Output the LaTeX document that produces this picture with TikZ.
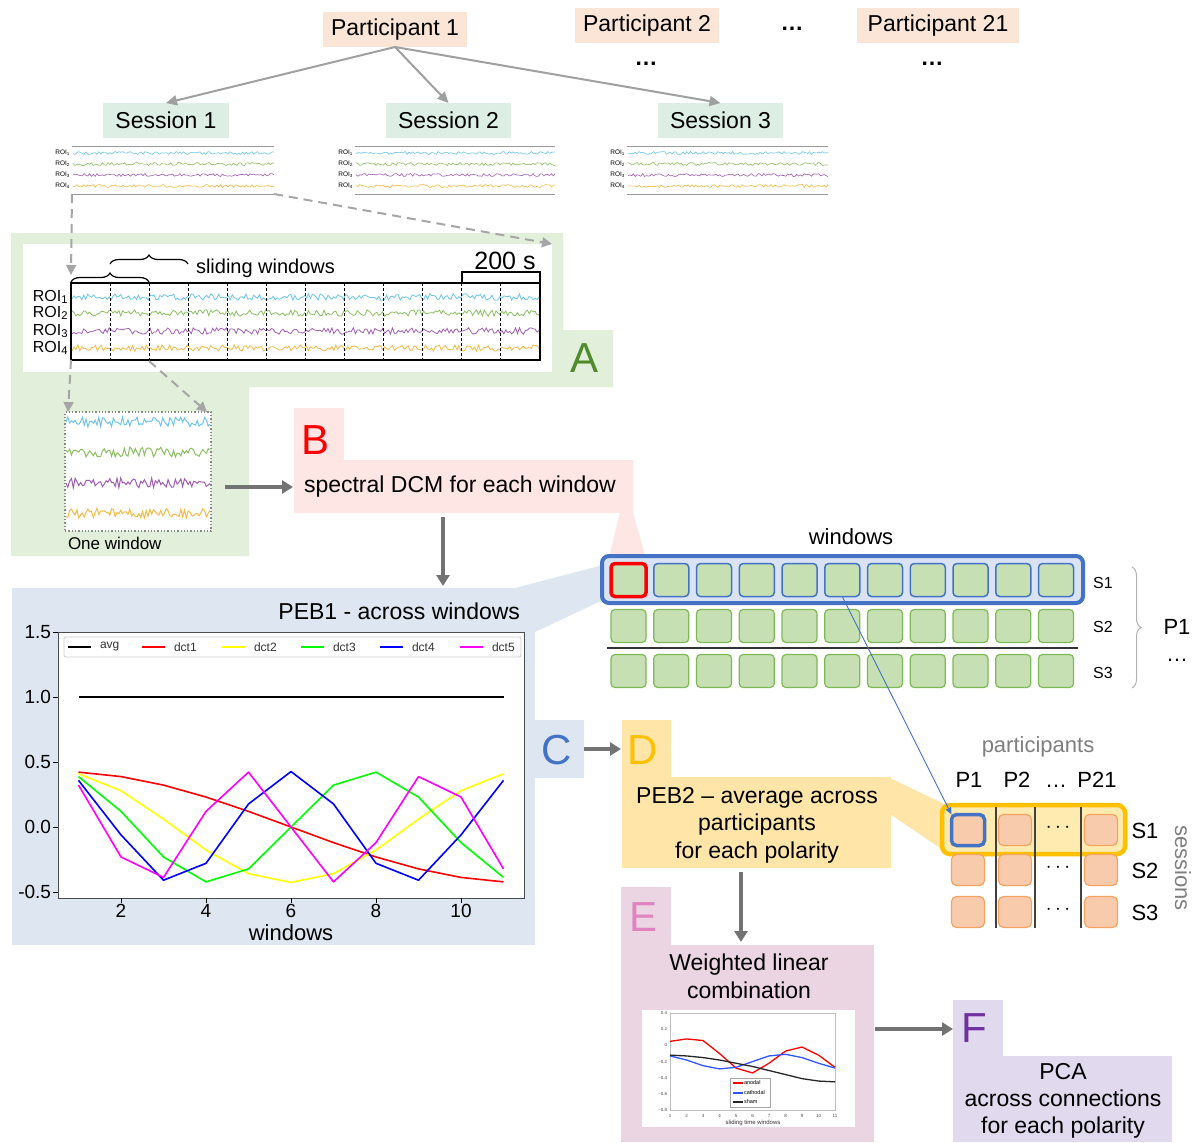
\documentclass[tikz,border=0pt]{standalone}
\usepackage{fontspec}
\setmainfont{Liberation Sans}
\usetikzlibrary{arrows.meta,decorations.pathreplacing,calc}
\newcommand{\fsz}[2]{\fontsize{#1}{#2}\selectfont}
\newcommand{\noisesig}[6]{\draw[#1] plot[domain=#2:#3, samples=#6, variable=\t] (\t, {#4 + #5*rand});}
\definecolor{peach}{HTML}{FBE5D6}
\definecolor{mint}{HTML}{DDEFE5}
\definecolor{greenbg}{HTML}{E2EFDA}
\definecolor{pinkbg}{HTML}{FDE6E3}
\definecolor{bluebg}{HTML}{DEE6F1}
\definecolor{yellowbg}{HTML}{FFE6A8}
\definecolor{mauvebg}{HTML}{EBD5E2}
\definecolor{lavbg}{HTML}{E1D9EE}
\definecolor{arrowgray}{HTML}{A0A0A0}
\definecolor{flowgray}{HTML}{737373}
\definecolor{dashgray}{HTML}{A6A6A6}
\definecolor{rulegray}{HTML}{9A9A9A}
\definecolor{sqgreen}{HTML}{C6E0B4}
\definecolor{sqgreenb}{HTML}{7DBA55}
\definecolor{sqpeach}{HTML}{F8CBAD}
\definecolor{sqpeachb}{HTML}{F4A460}
\definecolor{rowblue}{HTML}{4472C4}
\definecolor{lightblue}{HTML}{DAE3F3}
\definecolor{rowyellow}{HTML}{FFC000}
\definecolor{lightyellow}{HTML}{FFEBB0}
\definecolor{letA}{HTML}{4F8A2B}
\definecolor{letC}{HTML}{4472C4}
\definecolor{letD}{HTML}{FFC000}
\definecolor{letE}{HTML}{E083C0}
\definecolor{letF}{HTML}{7030A0}
\definecolor{sigblue}{HTML}{6EC6EA}
\definecolor{siggreen}{HTML}{8DC063}
\definecolor{sigpurple}{HTML}{A05EB5}
\definecolor{sigorange}{HTML}{F3BC45}
\definecolor{labelgray}{HTML}{7F7F7F}
\definecolor{dotgray}{HTML}{8A8A8A}
\definecolor{dctblack}{HTML}{000000}
\definecolor{dctred}{HTML}{FF0000}
\definecolor{dctyellow}{HTML}{FFFF00}
\definecolor{dctgreen}{HTML}{00FF00}
\definecolor{dctblue}{HTML}{0000FF}
\definecolor{dctmag}{HTML}{FF00FF}
\definecolor{eblue}{HTML}{3355FF}
\definecolor{eblack}{HTML}{262626}
\begin{document}
\begin{tikzpicture}[x=1pt,y=-1pt,
 every node/.style={inner sep=0pt, outer sep=0pt},
 partbox/.style={fill=peach, minimum height=35pt, font=\fsz{23}{27}},
 sessbox/.style={fill=mint, minimum height=35pt, font=\fsz{23}{27}},
 bigletter/.style={font=\fsz{42}{48}},
 maintext/.style={font=\fsz{23}{27.5}, align=center},
 grayarrow/.style={draw=arrowgray, line width=2pt, -{Triangle[length=11pt,width=10pt]}},
 dasharrow/.style={draw=dashgray, line width=2pt, dash pattern=on 9pt off 6pt, -{Triangle[length=10pt,width=10pt]}},
 flowarrow/.style={draw=flowgray, line width=3.5pt, -{Triangle[length=11pt,width=13pt]}},
 wsq/.style={fill=sqgreen, draw=sqgreenb, line width=1.2pt, rounded corners=4pt, minimum width=35pt, minimum height=33pt},
 psq/.style={fill=sqpeach, draw=sqpeachb, line width=1.2pt, rounded corners=5pt, minimum width=33pt, minimum height=31pt},
]
\useasboundingbox (0,0) rectangle (1198,1142);
\fill[white] (0,0) rectangle (1198,1142);
\pgfmathsetseed{12}

% ---------- panel backgrounds ----------
\fill[greenbg] (11,233) -- (563,233) -- (563,330) -- (613,330) -- (613,387) -- (249,387) -- (249,556) -- (11,556) -- cycle;
\node[fill=pinkbg, anchor=north west, minimum width=50pt, minimum height=53pt] (btab) at (294,408) {};
\node[fill=pinkbg, anchor=north west, minimum width=339pt, minimum height=53pt] (bmain) at (294,460) {};
\fill[bluebg] (515,588) -- (603,565) -- (603,600) -- (535,632) -- cycle;
\fill[pinkbg] (620,512) -- (633,512) -- (648,566) -- (607,566) -- cycle;
\node[fill=bluebg, anchor=north west, minimum width=523pt, minimum height=357pt] (cmain) at (12,588) {};
\node[fill=bluebg, anchor=north west, minimum width=50pt, minimum height=58pt] (ctab) at (534,720) {};
\node[fill=yellowbg, anchor=north west, minimum width=49pt, minimum height=58pt] (dtab) at (622,720) {};
\node[fill=yellowbg, anchor=north west, minimum width=269pt, minimum height=91pt] (dmain) at (622,777) {};
\fill[yellowbg] (890,778) -- (946,805) -- (946,852) -- (890,814) -- cycle;
\node[fill=mauvebg, anchor=north west, minimum width=50pt, minimum height=59pt] (etab) at (621,887) {};
\node[fill=mauvebg, anchor=north west, minimum width=253pt, minimum height=197pt] (emain) at (621,945) {};
\node[fill=lavbg, anchor=north west, minimum width=50pt, minimum height=57pt] (ftab) at (953,1000) {};
\node[fill=lavbg, anchor=north west, minimum width=219pt, minimum height=86pt] (fmain) at (953,1056) {};

% ---------- top: participants and sessions ----------
\node[partbox, minimum width=144pt] (p1) at (395,29.5) {Participant 1};
\node[partbox, minimum width=144pt] (p2) at (647,25.5) {Participant 2};
\node[font=\fsz{23}{27}\bfseries] (pdots) at (792,29) {…};
\node[partbox, minimum width=162pt] (p21) at (938,25.5) {Participant 21};
\node[font=\fsz{23}{27}\bfseries] (p2dots) at (646,64) {…};
\node[font=\fsz{23}{27}\bfseries] (p21dots) at (932,64) {…};
\node[sessbox, minimum width=126pt] (s1) at (166,120.5) {Session 1};
\node[sessbox, minimum width=125pt] (s2) at (448.5,120.5) {Session 2};
\node[sessbox, minimum width=125pt] (s3) at (720.5,120.5) {Session 3};
\draw[grayarrow] (p1.south) -- (s1.north);
\draw[grayarrow] (p1.south) -- (s2.north);
\draw[grayarrow] (p1.south) -- (s3.north);

\node[anchor=north west, minimum width=202pt, minimum height=47pt] (sig1) at (72,147) {};
\node[anchor=north west, minimum width=200pt, minimum height=47pt] (sig2) at (355,147) {};
\node[anchor=north west, minimum width=201pt, minimum height=47pt] (sig3) at (627,147) {};
\foreach \n/\xa/\xb in {1/73/274, 2/356/555, 3/628/828} {
  \draw[rulegray, line width=1pt] (sig\n.north west) -- (sig\n.north east);
  \draw[rulegray, line width=1pt] (sig\n.south west) -- (sig\n.south east);
  \foreach \c/\yy [count=\k] in {sigblue/153, siggreen/164, sigpurple/175, sigorange/186} {
    \noisesig{\c, line width=0.6pt}{\xa}{\xb}{\yy}{1.5}{110}
    \node[font=\fsz{6.5}{7}, anchor=east] (roi\n-\k) at ($(sig\n.north west)+(-2,\yy-147)$) {ROI\textsubscript{\k}};
  }
}

% ---------- panel A ----------
\node[fill=white, anchor=north west, minimum width=529pt, minimum height=128pt] (awhite) at (23,244) {};
\foreach \c/\yy in {sigblue/297, siggreen/313, sigpurple/331, sigorange/348} {
  \noisesig{\c, line width=0.8pt}{72}{539}{\yy}{3.2}{240}
}
\foreach \k in {1,...,11} \draw[black, line width=1pt, dash pattern=on 3pt off 2pt] ({71+39*\k},283) -- ({71+39*\k},360);
\node[draw=black, line width=1.3pt, anchor=north west, minimum width=469pt, minimum height=77pt] (aplot) at (71,283) {};
\foreach \yy [count=\k] in {297,313,331,348} \node[anchor=east, font=\fsz{16}{18}] (aroi\k) at (68,\yy) {ROI\textsubscript{\k}};
\draw[decorate, decoration={brace, amplitude=9pt}, line width=1.2pt] (71,282) -- (149,282);
\draw[decorate, decoration={brace, amplitude=9pt}, line width=1.2pt] (110,264) -- (188,264);
\node[anchor=west, font=\fsz{20}{24}] (slidw) at (196,268) {sliding windows};
\node[font=\fsz{25}{29}] (twohundred) at (505,261) {200 s};
\draw[line width=1.5pt] (462,283) -- (462,272) -- (540,272) -- (540,283);
\node[bigletter, text=letA] (letterA) at (584,358) {A};

\node[fill=white, draw=dotgray, dotted, line width=1.3pt, anchor=north west, minimum width=146pt, minimum height=119pt] (onewin) at (65,412) {};
\foreach \c/\yy in {sigblue/422, siggreen/452, sigpurple/483, sigorange/513} {
  \noisesig{\c, line width=1pt}{66}{210}{\yy}{5}{80}
}
\node[anchor=west, font=\fsz{17}{20}] (onewinlab) at (68,543) {One window};
\coordinate (wb2) at (149,361);
\draw[dasharrow] (aplot.south west) -- ($(onewin.north west)+(3,0)$);
\draw[dasharrow] (wb2) -- ($(onewin.north east)+(-4,0)$);
\draw[dasharrow] (sig1.south west) -- ($(aplot.north west)+(0,-8)$);
\draw[dasharrow] (sig1.south east) -- (awhite.north east);

% ---------- panel B ----------
\node[bigletter, text=red] (letterB) at (316,440) {B};
\node[anchor=west, font=\fsz{23}{27}] (btext) at (304,487) {spectral DCM for each window};
\draw[flowarrow] ($(onewin.east |- btext.west)+(14,0)$) -- ($(btext.west)+(-11,0)$);
\draw[flowarrow] ($(bmain.south)+(-20.5,4)$) -- ($(bmain.south |- cmain.north)+(-20.5,-2)$);

% ---------- panel C ----------
\node[font=\fsz{23}{27}, anchor=east] (ctitle) at (520,611) {PEB1 - across windows};
\node[fill=white, draw=black!70, line width=1pt, anchor=north west, minimum width=466pt, minimum height=266pt] (cplot) at (58,632) {};
\foreach \v/\lab [count=\i] in {1.5/1.5, 1.0/1.0, 0.5/0.5, 0.0/0.0, -0.5/-0.5} {
  \draw[line width=1pt] (53,{827-130*\v}) -- (58,{827-130*\v});
  \node[anchor=east, font=\fsz{19}{22}] (ytick\i) at (51,{827-130*\v}) {\lab};
}
\foreach \w [count=\i] in {2,4,6,8,10} {
  \draw[line width=1pt] ({36+42.5*\w},898) -- ({36+42.5*\w},903);
  \node[anchor=north, font=\fsz{19}{22}] (xtick\i) at ({36+42.5*\w},904) {\w};
}
\node[font=\fsz{22}{26}] (cxlabel) at (291,933) {windows};
\begin{scope}[shift={(36,827)}, x=42.5pt, y=130pt]
  \draw[dctblack, line width=1.6pt] (1,1) -- (11,1);
  \foreach \k/\col in {1/dctred, 2/dctyellow, 3/dctgreen, 4/dctblue, 5/dctmag}
    \draw[\col, line width=1.6pt, line join=round] plot[samples at={1,...,11}] (\x, {0.4264*cos(8.181818*\k*(2*\x-1))});
\end{scope}
\node[fill=white, draw=black!20, line width=0.8pt, rounded corners=2pt, anchor=north west, minimum width=457pt, minimum height=20pt] (clegend) at (64,637) {};
\foreach \xa/\col/\lab [count=\i] in {68/dctblack/avg, 142/dctred/dct1, 222/dctyellow/dct2, 301/dctgreen/dct3, 380/dctblue/dct4, 460/dctmag/dct5} {
  \draw[\col, line width=1.6pt] (\xa,647) -- ({\xa+23},647);
  \node[anchor=west, font=\fsz{12}{14}, text=black!80] (leg\i) at ({\xa+32},647) {\lab};
}
\node[bigletter, text=letC] (letterC) at (557,750) {C};
\draw[flowarrow] (ctab.east) -- ($(dtab.west)+(-1,0)$);

% ---------- panel D ----------
\node[bigletter, text=letD] (letterD) at (643,750) {D};
\node[maintext] (dtext) at (757,825) {PEB2 – average across\\participants\\for each polarity};
\draw[flowarrow] ($(dmain.south)+(-15.5,4)$) -- ($(dmain.south |- emain.north)+(-15.5,-3)$);

% ---------- windows grid ----------
\node[font=\fsz{22}{26}] (winlab) at (851,537) {windows};
\node[fill=lightblue, draw=rowblue, line width=4pt, rounded corners=7pt, anchor=north west, minimum width=481pt, minimum height=47pt] (s1row) at (602,556) {};
\foreach \i in {1,...,10} \node[wsq, draw=rowblue, line width=1.5pt] (w1-\i) at ({628.5+42.75*\i},580) {};
\node[wsq, draw=red, line width=3.5pt] (w1-0) at (628.5,580) {};
\foreach \r/\yy in {2/626, 3/671} \foreach \i in {0,...,10} \node[wsq] (w\r-\i) at ({628.5+42.75*\i},\yy) {};
\draw[line width=1.8pt, black!80] (607,648) -- (1078,648);
\node[font=\fsz{16}{19}] (ws1) at (1103,583) {S1};
\node[font=\fsz{16}{19}] (ws2) at (1103,627) {S2};
\node[font=\fsz{16}{19}] (ws3) at (1103,673) {S3};
\draw[decorate, decoration={brace, amplitude=9pt}, draw=black!30, line width=1pt] (1132,567) -- (1132,688);
\node[font=\fsz{22}{26}] (p1lab) at (1177,627) {P1};
\node[font=\fsz{22}{26}] (p1dots) at (1177,660) {…};

% ---------- participants grid ----------
\node[font=\fsz{22}{26}, text=labelgray] (partlab) at (1038,747) {participants};
\node[font=\fsz{22}{26}] (cp1) at (969,780) {P1};
\node[font=\fsz{22}{26}] (cp2) at (1017,780) {P2};
\node[font=\fsz{22}{26}] (cpd) at (1056,786) {…};
\node[font=\fsz{22}{26}] (cp21) at (1097,780) {P21};
\node[fill=lightyellow, draw=rowyellow, line width=4.5pt, rounded corners=8pt, anchor=north west, minimum width=183pt, minimum height=49pt] (prow) at (942,805) {};
\foreach \c/\xx/\r/\yy in {2/1015/1/830, 3/1101/1/830, 1/968/2/870, 2/1015/2/870, 3/1101/2/870, 1/968/3/912, 2/1015/3/912, 3/1101/3/912}
  \node[psq] (pp\c\r) at (\xx,\yy) {};
\node[psq, draw=rowblue, line width=3.5pt] (pp11) at (968,830) {};
\foreach \xx in {996,1035,1081} \draw[line width=2pt, black!75] (\xx,807) -- (\xx,928);
\foreach \yy [count=\i] in {830,870,912} \node[font=\fsz{22}{26}] (pdots\i) at (1058,{\yy-2}) {$\cdots$};
\node[font=\fsz{22}{26}] (ps1) at (1145,831) {S1};
\node[font=\fsz{22}{26}] (ps2) at (1145,871) {S2};
\node[font=\fsz{22}{26}] (ps3) at (1145,913) {S3};
\node[rotate=-90, font=\fsz{22}{26}, text=labelgray] (sesslab) at (1183,868) {sessions};
\draw[rowblue, line width=0.9pt, -{Triangle[length=7pt,width=6pt]}] (w1-5.south) -- (pp11.north west);

% ---------- panel E ----------
\node[bigletter, text=letE] (letterE) at (643,917) {E};
\node[maintext, font=\fsz{23}{28}] (etext) at (749,976) {Weighted linear\\combination};
\node[fill=white, anchor=north west, minimum width=213pt, minimum height=117pt] (eplot) at (642,1010) {};
\draw[black!25, line width=0.5pt] (670,1013) rectangle (835,1110);
\foreach \v/\lab [count=\i] in {0.4/0.4, 0.2/0.2, 0/0, -0.2/-0.2, -0.4/-0.4, -0.6/-0.6, -0.8/-0.8}
  \node[anchor=east, font=\fsz{4.5}{5}, text=black!70] (eyt\i) at (667,{1013+(0.4-\v)*81}) {\lab};
\foreach \w in {1,...,11}
  \node[font=\fsz{4.5}{5}, text=black!70] (ext\w) at ({670+(\w-1)*16.5},1116) {\w};
\node[font=\fsz{6}{7}, text=black!80] (exlab) at (753,1123) {sliding time windows};
\begin{scope}[shift={(670,1013)}, x=16.5pt, y=81pt]
  \draw[dctred, line width=1.3pt, line join=round] plot coordinates {(0,-0.35) (1,-0.32) (2,-0.34) (3,-0.5) (4,-0.68) (5,-0.74) (6,-0.62) (7,-0.47) (8,-0.42) (9,-0.52) (10,-0.67)};
  \draw[eblue, line width=1.3pt, line join=round] plot coordinates {(0,-0.53) (1,-0.58) (2,-0.65) (3,-0.69) (4,-0.67) (5,-0.6) (6,-0.53) (7,-0.51) (8,-0.55) (9,-0.62) (10,-0.68)};
  \draw[eblack, line width=1.3pt, line join=round] plot coordinates {(0,-0.52) (1,-0.53) (2,-0.55) (3,-0.58) (4,-0.62) (5,-0.66) (6,-0.71) (7,-0.76) (8,-0.81) (9,-0.84) (10,-0.85)};
\end{scope}
\node[fill=white, draw=black!35, line width=0.4pt, anchor=north west, minimum width=40pt, minimum height=29pt] (elegend) at (730,1078) {};
\draw[dctred, line width=1.2pt] (733,1083) -- (743,1083);
\draw[eblue, line width=1.2pt] (733,1093) -- (743,1093);
\draw[eblack, line width=1.2pt] (733,1102) -- (743,1102);
\node[anchor=west, font=\fsz{5.5}{6}] (eleg1) at (744,1083) {anodal};
\node[anchor=west, font=\fsz{5.5}{6}] (eleg2) at (744,1093) {cathodal};
\node[anchor=west, font=\fsz{5.5}{6}] (eleg3) at (744,1102) {sham};
\draw[flowarrow] ($(emain.east)+(1,-14.5)$) -- ($(ftab.west |- emain.east)+(0,-14.5)$);

% ---------- panel F ----------
\node[bigletter, text=letF] (letterF) at (974,1028) {F};
\node[maintext, font=\fsz{23}{27}] (ftext) at (1063,1101) {PCA\\across connections\\for each polarity};
\end{tikzpicture}
\end{document}
